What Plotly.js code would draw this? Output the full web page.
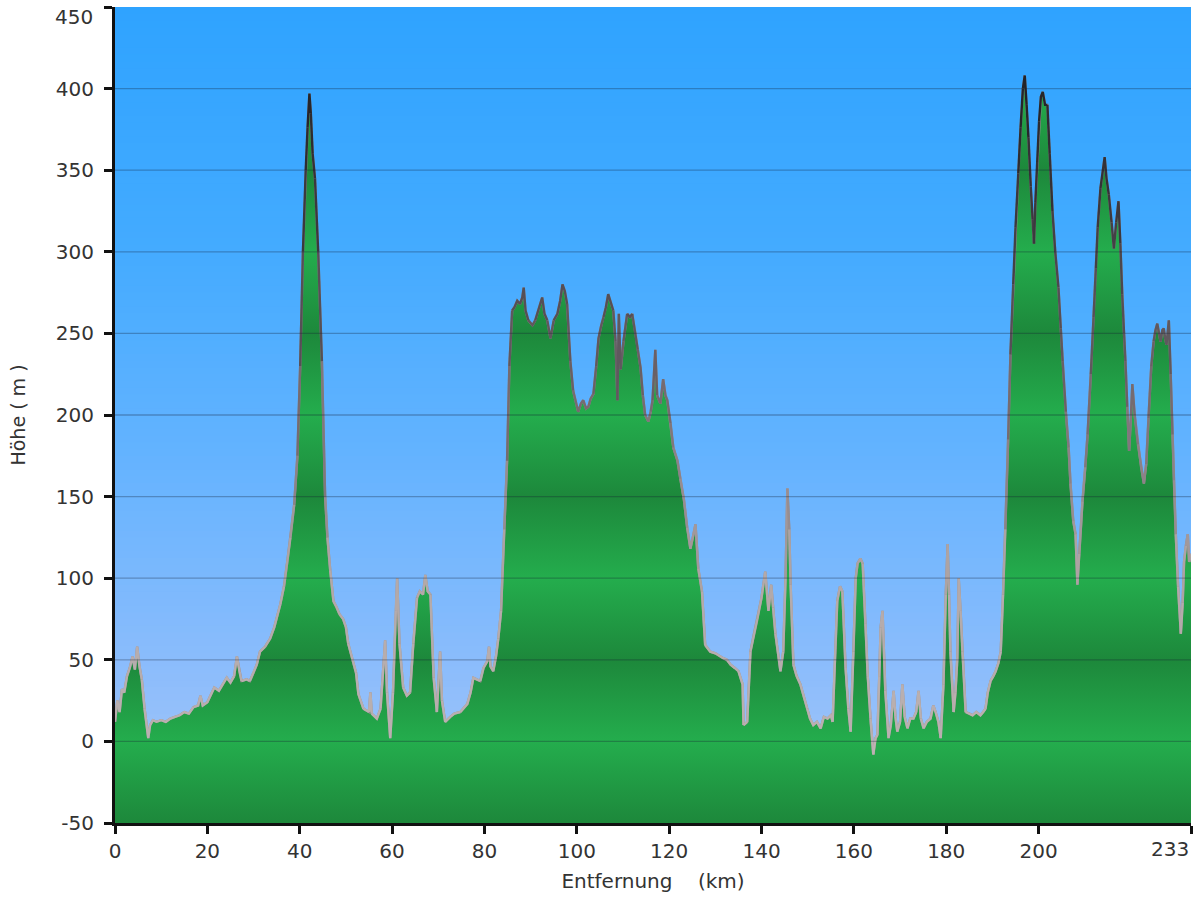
<!DOCTYPE html>
<html><head><meta charset="utf-8">
<script src="https://cdn.plot.ly/plotly-3.0.1.min.js"></script>
<style>html,body{margin:0;padding:0;background:#fff}</style>
</head><body><div id="chart" style="width:1200px;height:900px"></div>
<script>
// Elevation profile: distance (km) and height (m)
const distKm = [0,0.5,1.0,1.5,2.0,2.6,3.2,3.8,4.3,4.8,5.3,5.8,6.4,6.9,7.2,7.6,8.2,9.0,10.0,11.0,12.0,13.0,14.0,15.0,16.0,17.0,18.0,18.5,19.0,20.0,21.0,21.5,22.5,23.5,24.2,25.0,25.8,26.4,27.0,27.4,28.5,29.2,30.0,30.7,31.4,32.5,33.6,34.5,35.8,36.6,37.3,38.0,38.8,39.5,40.1,40.7,41.3,41.7,42.1,42.4,42.8,43.3,44.0,44.8,45.5,46.0,46.6,47.3,48.0,48.6,49.4,50.0,50.5,51.6,52.2,52.7,53.8,55.0,55.3,55.6,56.7,57.5,58.1,58.5,58.9,59.6,60.2,60.8,61.1,61.6,62.4,63.2,63.9,64.6,65.4,66.0,66.7,67.2,67.7,68.3,69.0,69.7,70.4,70.8,71.5,72.6,73.5,74.8,76.3,77.0,77.6,78.3,79.1,79.8,80.6,81.0,81.3,81.9,82.5,83.0,83.6,84.3,84.9,85.4,86.0,86.5,87.1,87.7,88.2,88.5,88.9,89.5,90.4,91.0,91.8,92.5,93.0,93.6,94.3,95.0,95.8,96.4,96.9,97.4,97.9,98.6,99.2,99.7,100.3,100.9,101.4,102.0,102.5,103.0,103.6,104.2,104.7,105.3,105.8,106.3,106.8,107.3,107.9,108.4,108.8,109.1,109.5,110.1,110.5,110.9,111.5,112.0,112.7,113.2,113.8,114.3,114.8,115.5,116.0,116.4,117.0,117.4,118.1,118.7,119.2,119.6,120.3,120.9,121.8,122.4,123.2,123.9,124.6,125.2,125.7,126.3,127.1,127.8,128.9,130.0,131.0,131.7,132.5,133.3,134.2,135.0,135.9,136.1,136.9,137.6,138.3,139.1,140.0,140.8,141.5,142.1,142.5,143.0,144.1,144.7,145.2,145.6,146.0,146.3,146.9,147.6,148.4,149.2,149.9,150.5,151.2,152.0,152.8,153.5,154.3,155.0,155.4,155.9,156.4,157.0,157.5,158.2,158.8,159.3,159.9,160.4,160.8,161.4,161.9,162.5,163.0,163.6,164.2,164.7,165.1,165.5,165.8,166.2,166.8,167.5,168.0,168.6,169.0,169.4,170.0,170.5,171.0,171.6,172.2,172.9,173.5,174.0,174.5,175.1,175.8,176.6,177.2,177.7,178.3,178.8,179.4,179.9,180.3,180.6,180.9,181.6,182.0,182.4,182.7,183.1,183.5,184.2,185.0,185.7,186.5,187.4,188.0,188.5,189.0,189.6,190.2,190.7,191.3,191.8,192.3,192.8,193.4,193.9,194.5,195.0,195.6,196.1,196.6,197.0,197.4,197.8,198.3,198.7,199.0,199.3,199.7,200.1,200.5,200.9,201.4,201.9,202.4,203.0,203.6,204.3,204.8,205.2,205.9,206.5,206.9,207.5,208.0,208.4,208.8,209.5,210.1,210.6,211.3,211.9,212.4,212.8,213.4,213.9,214.3,214.7,215.2,215.8,216.3,216.8,217.3,217.7,218.1,218.5,218.8,219.2,219.6,220.0,220.3,220.8,221.5,222.2,222.8,223.3,223.8,224.4,224.9,225.3,225.7,226.0,226.4,226.8,227.1,227.4,227.7,228.0,228.2,228.6,229.0,229.3,229.7,230.2,230.8,231.2,231.5,231.9,232.3,232.6,233.0];
const elevM = [12,25,18,32,30,40,45,52,44,58,46,38,20,8,2,10,13,12,13,12,14,15,16,18,17,21,22,28,22,24,30,33,31,36,39,36,40,52,42,37,38,37,42,47,55,58,63,70,84,95,110,125,145,175,230,300,350,376,397,385,360,345,300,233,150,125,105,86,82,78,75,70,60,49,42,29,20,18,30,17,14,20,45,62,30,2,30,80,100,60,33,28,30,60,88,92,90,102,92,90,39,18,55,25,12,15,17,18,23,30,39,38,37,45,49,58,46,43,52,63,80,130,172,230,264,266,270,268,272,278,264,258,255,258,265,272,262,258,247,258,262,270,280,276,268,233,215,209,202,207,209,204,205,210,213,230,247,255,260,266,274,270,264,245,209,262,228,245,255,262,260,262,250,240,229,212,200,196,202,209,240,212,207,222,212,209,195,180,172,161,148,131,118,126,133,106,92,59,55,54,52,51,50,47,45,43,35,10,12,55,65,75,88,104,80,96,82,66,43,55,100,155,130,96,47,40,35,27,20,14,10,12,8,15,14,16,12,50,86,95,92,45,20,6,55,100,109,112,109,72,40,14,-8,2,4,40,70,80,31,2,10,31,15,6,12,35,15,8,14,14,18,31,14,8,12,14,22,18,12,2,35,90,121,90,55,18,30,51,100,80,55,18,17,16,18,16,18,20,30,37,40,43,48,55,90,130,185,237,280,315,348,376,400,408,390,370,340,320,305,330,355,380,395,398,390,390,360,325,300,278,253,233,202,180,158,135,127,96,115,147,168,188,225,260,290,315,339,350,358,345,335,318,302,318,331,305,274,250,233,205,178,200,219,200,182,168,158,170,198,230,245,252,256,250,245,252,253,247,243,252,258,225,188,160,127,95,66,85,110,120,127,110,115];
const xTickVals = [0,20,40,60,80,100,120,140,160,180,200,233];
const yTickVals = [-50,0,50,100,150,200,250,300,350,400,450];
const xTitle = 'Entfernung\u00a0\u00a0\u00a0\u00a0(km)';
const yTitle = 'Höhe\u00a0(\u00a0m\u00a0)';

const yMin = -50, yMax = 450, xMax = 233;
const FONT = 'DejaVu Sans, Verdana, sans-serif';

// green banded gradient (dark at odd 50s, bright at hundreds)
const dark = 'rgb(29,136,59)', bright = 'rgb(36,173,77)';
const greenScale = [];
for (let k = 0; k <= 10; k++) greenScale.push([k / 10, k % 2 === 0 ? dark : bright]);

// outline colour depending on height
const outlineStops = [[-50,[192,182,182]],[100,[178,168,168]],[170,[140,130,135]],[230,[105,96,102]],[280,[80,75,82]],[340,[55,52,58]],[400,[35,35,40]]];
function outlineColor(h) {
  if (h <= outlineStops[0][0]) return outlineStops[0][1];
  for (let i = 1; i < outlineStops.length; i++) {
    if (h <= outlineStops[i][0]) {
      const a = outlineStops[i-1], b = outlineStops[i];
      const t = (h - a[0]) / (b[0] - a[0]);
      return a[1].map((v, j) => Math.round(v + (b[1][j] - v) * t));
    }
  }
  return outlineStops[outlineStops.length-1][1];
}
const rgb = c => `rgb(${c[0]},${c[1]},${c[2]})`;

const traces = [];
traces.push({x: [0, xMax], y: [yMin, yMin], mode: 'lines', line: {width: 0}, hoverinfo: 'skip', showlegend: false});
traces.push({x: distKm, y: elevM, mode: 'lines', line: {width: 0}, fill: 'tonexty',
  fillgradient: {type: 'vertical', start: yMin, stop: yMax, colorscale: greenScale},
  hoverinfo: 'skip', showlegend: false});
traces.push({x: distKm, y: elevM, mode: 'lines', line: {width: 2.4, color: rgb(outlineColor(150))}, hoverinfo: 'skip', showlegend: false});
const BIN = 20;
const bins = {};
for (let i = 0; i < distKm.length - 1; i++) {
  const mid = Math.max(elevM[i], elevM[i+1]) * 0.6 + Math.min(elevM[i], elevM[i+1]) * 0.4;
  const b = Math.floor(mid / BIN);
  if (!bins[b]) bins[b] = {x: [], y: [], last: -1};
  const t = bins[b];
  if (t.last === i) { t.x.push(distKm[i+1]); t.y.push(elevM[i+1]); }
  else {
    if (t.x.length) { t.x.push(null); t.y.push(null); }
    t.x.push(distKm[i], distKm[i+1]); t.y.push(elevM[i], elevM[i+1]);
  }
  t.last = i + 1;
}
Object.keys(bins).forEach(b => {
  const t = bins[b];
  traces.push({x: t.x, y: t.y, mode: 'lines', connectgaps: false,
    line: {width: 2.4, color: rgb(outlineColor((+b + 0.5) * BIN))}, hoverinfo: 'skip', showlegend: false});
});

// background gradient bands
const bgStops = [[0,[47,163,255]],[0.3,[68,171,255]],[0.55,[100,179,255]],[0.8,[138,188,252]],[1,[168,198,246]]];
function bgColor(f) {
  for (let i = 1; i < bgStops.length; i++) {
    if (f <= bgStops[i][0]) {
      const a = bgStops[i-1], b = bgStops[i];
      const t = (f - a[0]) / (b[0] - a[0]);
      return a[1].map((v, j) => Math.round(v + (b[1][j] - v) * t));
    }
  }
  return bgStops[bgStops.length-1][1];
}
const shapes = [];
const NB = 120;
for (let k = 0; k < NB; k++) {
  const fTop = k / NB;
  shapes.push({type: 'rect', xref: 'paper', yref: 'paper', x0: 0, x1: 1,
    y0: 1 - (k + 1) / NB - 0.001, y1: 1 - k / NB, layer: 'below',
    fillcolor: rgb(bgColor(fTop + 0.5 / NB)), line: {width: 0}});
}
yTickVals.filter(v => v > yMin && v < yMax).forEach(v => {
  shapes.push({type: 'line', xref: 'paper', yref: 'y', x0: 0, x1: 1, y0: v, y1: v, layer: 'above',
    line: {color: 'rgba(20,30,50,0.30)', width: 1.3}});
});

const tickFont = {family: FONT, size: 20, color: '#333'};
// edge labels (drawn inside the div, as in the original)
const xEdge = xTickVals[xTickVals.length - 1];
const yEdge = yTickVals[yTickVals.length - 1];
const annotations = [
  {text: String(xEdge), x: xEdge, xref: 'x', xanchor: 'right', xshift: 0, y: 0, yref: 'paper', yanchor: 'top', yshift: -12,
   showarrow: false, font: tickFont},
  {text: String(yEdge), x: 0, xref: 'paper', xanchor: 'right', xshift: -20, y: yEdge, yref: 'y', yanchor: 'top', yshift: 4,
   showarrow: false, font: tickFont}
];

const layout = {
  width: 1200, height: 900,
  margin: {l: 115, r: 9, t: 7, b: 77},
  paper_bgcolor: '#ffffff', plot_bgcolor: '#5aaeff',
  showlegend: false,
  shapes: shapes,
  annotations: annotations,
  xaxis: {range: [0, xMax], tickvals: xTickVals, ticktext: xTickVals.map(v => v === xEdge ? '' : String(v)),
    ticks: 'outside', ticklen: 8, tickwidth: 3, tickcolor: '#111',
    showline: true, linewidth: 3, linecolor: '#111', showgrid: false, zeroline: false,
    tickfont: tickFont,
    title: {text: xTitle, font: {family: FONT, size: 20, color: '#333'}, standoff: 12}},
  yaxis: {range: [yMin, yMax], tickvals: yTickVals, ticktext: yTickVals.map(v => v === yEdge ? '' : String(v)),
    ticks: 'outside', ticklen: 8, tickwidth: 3, tickcolor: '#111', ticklabelstandoff: 6,
    showline: true, linewidth: 3, linecolor: '#111', showgrid: false, zeroline: false,
    tickfont: tickFont,
    title: {text: yTitle, font: {family: FONT, size: 19, color: '#333'}, standoff: 26}}
};
Plotly.newPlot('chart', traces, layout, {displayModeBar: false, staticPlot: true});
</script>
</body></html>
